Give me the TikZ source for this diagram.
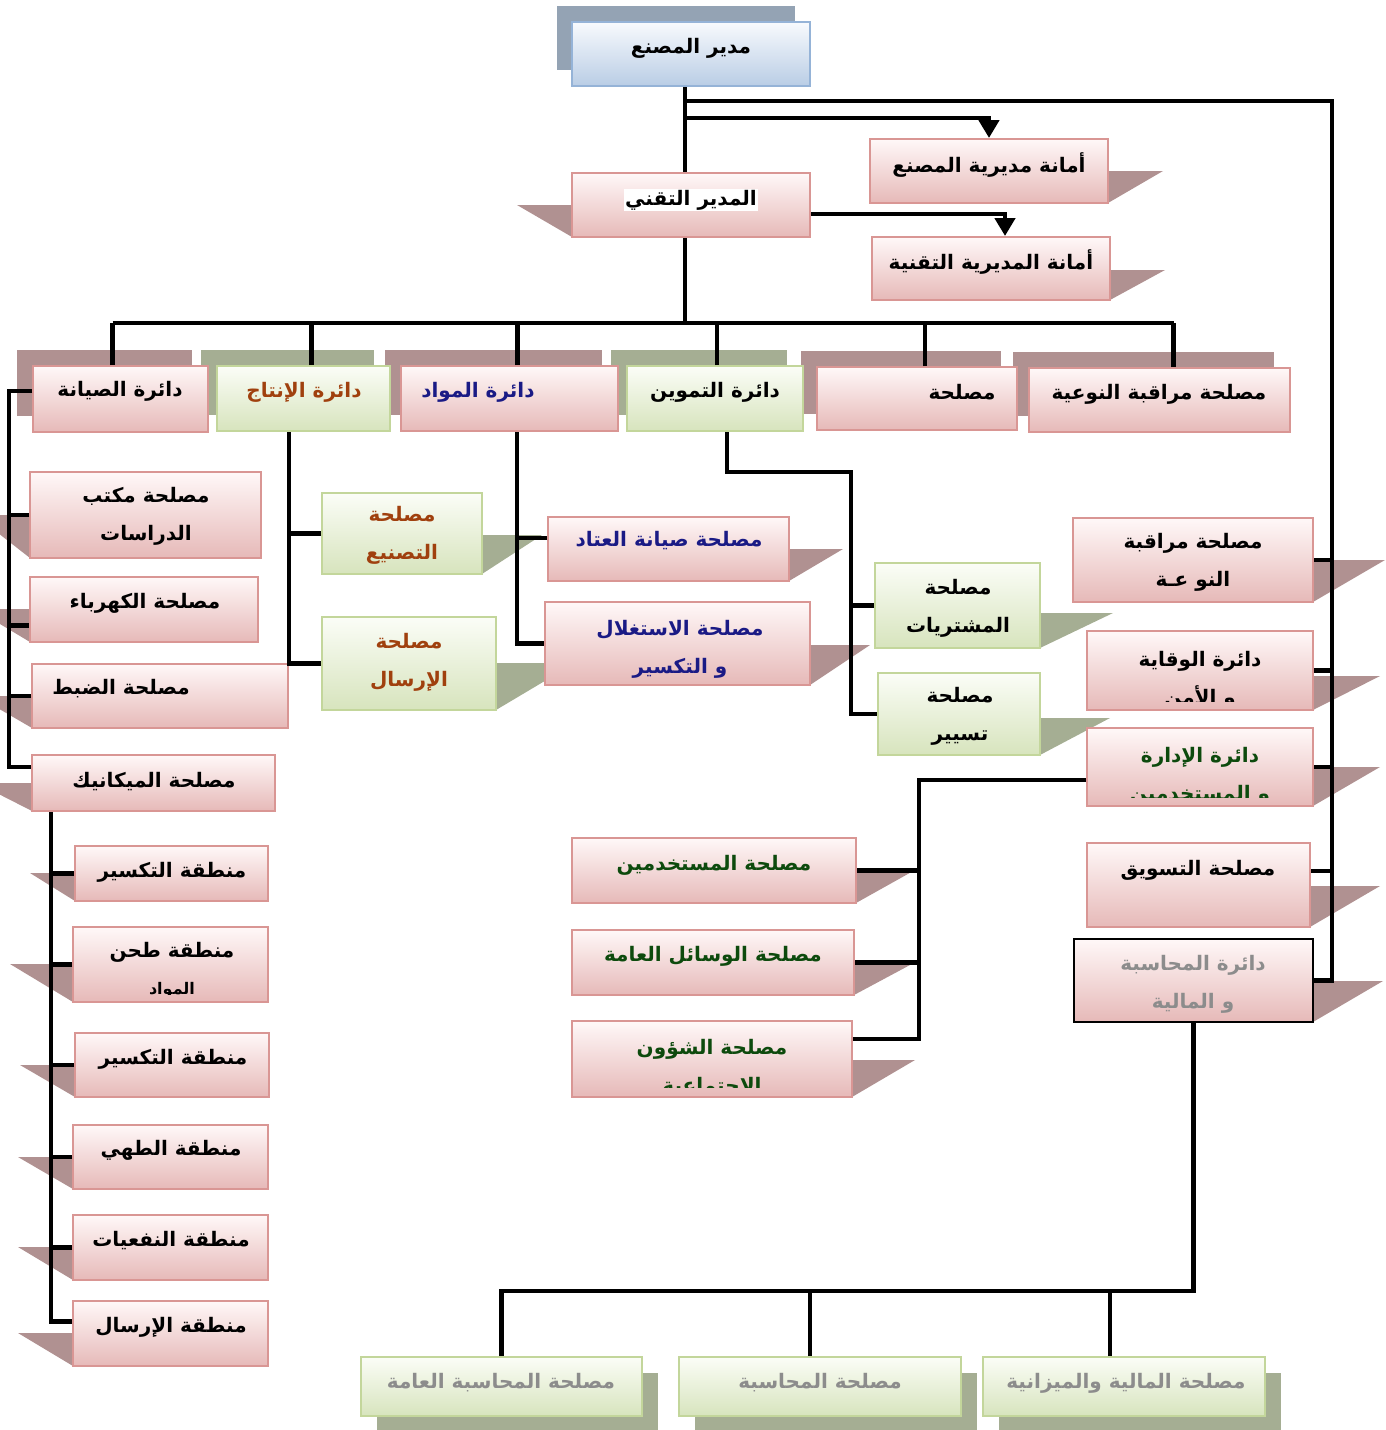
\documentclass[tikz,border=0pt]{standalone}
\usepackage{fontspec}
\usepackage{xcolor}
\usepackage{tikz}
\usetikzlibrary{arrows.meta}
\newfontfamily\arabicfont[Script=Arabic]{DejaVu Sans}
\TeXXeTstate=1
\newcommand{\ar}[1]{\beginR#1\endR}
\definecolor{pinktop}{HTML}{FFF8F8}
\definecolor{pinkbot}{HTML}{E6B9B8}
\definecolor{pinkline}{HTML}{D99694}
\definecolor{greentop}{HTML}{FBFDF7}
\definecolor{greenbot}{HTML}{D7E4BD}
\definecolor{greenline}{HTML}{C3D69B}
\definecolor{bluetop}{HTML}{F8FAFD}
\definecolor{bluebot}{HTML}{B9CDE5}
\definecolor{blueline}{HTML}{95B3D7}
\definecolor{shpinkc}{HTML}{B09191}
\definecolor{shgreenc}{HTML}{A5AE93}
\definecolor{shbluec}{HTML}{94A3B4}
\definecolor{txtbrown}{HTML}{A0400E}
\definecolor{txtnavy}{HTML}{1A1A85}
\definecolor{txtgreen}{HTML}{0D4A0D}
\definecolor{txtgrey}{HTML}{8C8C8C}
\tikzset{
  pinkbox/.style={draw=pinkline, line width=2pt, top color=pinktop, bottom color=pinkbot, inner sep=0pt},
  greenbox/.style={draw=greenline, line width=2pt, top color=greentop, bottom color=greenbot, inner sep=0pt},
  bluebox/.style={draw=blueline, line width=2pt, top color=bluetop, bottom color=bluebot, inner sep=0pt},
  sz/.style 2 args={minimum width=#1, minimum height=#2},
  shpink/.style={fill=shpinkc},
  shgreen/.style={fill=shgreenc},
  shblue/.style={fill=shbluec},
  conn/.style={draw=black, line width=4.5pt},
  tip/.style={-{Triangle[width=20pt,length=18pt]}},
  lab/.style={font=\arabicfont\bfseries\fontsize{20}{38}\selectfont, align=center, inner sep=1pt},
}

\begin{document}
\begin{tikzpicture}[x=1pt,y=-1pt]
  \useasboundingbox (0,0) rectangle (1386,1430);
  % shadows
  \fill[shblue] (557,6) rectangle (795,70);
  \fill[shpink] (17,350) rectangle (192,416);
  \fill[shgreen] (201,350) rectangle (374,415);
  \fill[shpink] (385,350) rectangle (602,415);
  \fill[shgreen] (611,350) rectangle (787,415);
  \fill[shpink] (801,351) rectangle (1001,414);
  \fill[shpink] (1013,352) rectangle (1274,416);
  \fill[shgreen] (377,1373) rectangle (658,1432);
  \fill[shgreen] (695,1373) rectangle (977,1432);
  \fill[shgreen] (999,1373) rectangle (1281,1432);
  \foreach \a/\b/\c/\d in {572/205/517/237, 1108/171/1163/203, 1110/270/1165/300,
      30/515/-25/558, 30/609/-25/642, 32/696/-23/728, 32/783/-23/811,
      75/873/30/901, 73/964/10/1002, 75/1065/20/1097, 73/1157/18/1189, 73/1247/18/1280, 73/1333/18/1366,
      789/549/843/581, 810/645/870/685,
      1313/560/1385/602, 1313/676/1380/710, 1313/767/1380/806, 1310/886/1380/927, 1313/981/1383/1022,
      856/870/915/903, 854/965/910/995, 852/1060/915/1097}
    \fill[shpink] (\a,\b) -- (\c,\b) -- (\a,\d) -- cycle;
  \foreach \a/\b/\c/\d in {482/535/542/574, 496/663/575/710, 1040/613/1113/648, 1040/718/1110/755}
    \fill[shgreen] (\a,\b) -- (\c,\b) -- (\a,\d) -- cycle;

  % boxes
  \node[bluebox, sz={238}{64}] (dir) at (691,54) {};
  \node[pinkbox, sz={238}{64}] (tech) at (691,205) {};
  \node[pinkbox, sz={238}{64}] (sec1) at (989,171) {};
  \node[pinkbox, sz={238}{63}] (sec2) at (991,268.5) {};
  \node[pinkbox, sz={175}{66}] (sian) at (120.5,399) {};
  \node[greenbox, sz={173}{65}] (prod) at (303.5,398.5) {};
  \node[pinkbox, sz={217}{65}] (mat) at (509.5,398.5) {};
  \node[greenbox, sz={176}{65}] (tam) at (715,398.5) {};
  \node[pinkbox, sz={200}{63}] (msl) at (917,398.5) {};
  \node[pinkbox, sz={261}{64}] (qual) at (1159.5,400) {};
  \node[pinkbox, sz={231}{86}] (study) at (145.5,515) {};
  \node[pinkbox, sz={228}{65}] (elec) at (144,609.5) {};
  \node[pinkbox, sz={256}{64}] (ctrl) at (160,696) {};
  \node[pinkbox, sz={243}{56}] (mech) at (153.5,783) {};
  \node[pinkbox, sz={193}{55}] (z1) at (171.5,873.5) {};
  \node[pinkbox, sz={195}{75}] (z2) at (170.5,964.5) {};
  \node[pinkbox, sz={194}{64}] (z3) at (172,1065) {};
  \node[pinkbox, sz={195}{64}] (z4) at (170.5,1157) {};
  \node[pinkbox, sz={195}{65}] (z5) at (170.5,1247.5) {};
  \node[pinkbox, sz={195}{65}] (z6) at (170.5,1333.5) {};
  \node[greenbox, sz={160}{81}] (manu) at (402,533.5) {};
  \node[greenbox, sz={174}{93}] (send) at (409,663.5) {};
  \node[pinkbox, sz={241}{64}] (maint) at (668.5,549) {};
  \node[pinkbox, sz={265}{83}] (expl) at (677.5,643.5) {};
  \node[greenbox, sz={165}{85}] (buy) at (957.5,605.5) {};
  \node[greenbox, sz={162}{82}] (stk) at (959,714) {};
  \node[pinkbox, sz={240}{84}] (qual2) at (1193,560) {};
  \node[pinkbox, sz={226}{79}] (prev) at (1200,670.5) {};
  \node[pinkbox, sz={226}{78}] (admin) at (1200,767) {};
  \node[pinkbox, sz={223}{84}] (mkt) at (1198.5,885) {};
  \node[pinkbox, draw=black, sz={239}{83}] (fin) at (1193.5,980.5) {};
  \node[pinkbox, sz={284}{65}] (users) at (714,870.5) {};
  \node[pinkbox, sz={282}{65}] (means) at (713,962.5) {};
  \node[pinkbox, sz={280}{76}] (social) at (712,1059) {};
  \node[greenbox, sz={281}{59}] (acc1) at (501.5,1386.5) {};
  \node[greenbox, sz={282}{59}] (acc2) at (820,1386.5) {};
  \node[greenbox, sz={282}{59}] (acc3) at (1124,1386.5) {};

  % texts
  \node[lab] (tdir) at (691,48) {\ar{مدير المصنع}};
  \node[lab, fill=white] (ttech) at (691,200) {\ar{المدير التقني}};
  \node[lab] (tsec1) at (989,165) {\ar{أمانة مديرية المصنع}};
  \node[lab] (tsec2) at (991,262) {\ar{أمانة المديرية التقنية}};
  \node[lab] (tsian) at (120,391) {\ar{دائرة الصيانة}};
  \node[lab, text=txtbrown] (tprod) at (304,392) {\ar{دائرة الإنتاج}};
  \node[lab, text=txtnavy] (tmat) at (478,392) {\ar{دائرة المواد}};
  \node[lab] (ttam) at (715,392) {\ar{دائرة التموين}};
  \node[lab] (tmsl) at (962,392) {\ar{مصلحة}};
  \node[lab] (tqual) at (1159,394) {\ar{مصلحة مراقبة النوعية}};
  \node[lab] (tstudy) at (146,516) {\ar{مصلحة مكتب}\\\ar{الدراسات}};
  \node[lab] (telec) at (145,603) {\ar{مصلحة الكهرباء}};
  \node[lab] (tctrl) at (121,689) {\ar{مصلحة الضبط}};
  \node[lab] (tmech) at (154,782) {\ar{مصلحة الميكانيك}};
  \node[lab] (tz1) at (172,872) {\ar{منطقة التكسير}};
  \node[lab] (tz2) at (172,952) {\ar{منطقة طحن}};
  \begin{scope}
    \clip (73,927) rectangle (268,994);
    \node[lab, font=\arabicfont\bfseries\fontsize{16}{20}\selectfont] (tz2b) at (172,990) {\ar{المواد}};
  \end{scope}
  \node[lab] (tz3) at (173,1059) {\ar{منطقة التكسير}};
  \node[lab] (tz4) at (171,1150) {\ar{منطقة الطهي}};
  \node[lab] (tz5) at (171,1241) {\ar{منطقة النفعيات}};
  \node[lab] (tz6) at (171,1327) {\ar{منطقة الإرسال}};
  \node[lab, text=txtbrown] (tmanu) at (402,535) {\ar{مصلحة}\\\ar{التصنيع}};
  \node[lab, text=txtbrown] (tsend) at (409,662) {\ar{مصلحة}\\\ar{الإرسال}};
  \node[lab, text=txtnavy] (tmaint) at (669,541) {\ar{مصلحة صيانة العتاد}};
  \begin{scope}
    \clip (545,602) rectangle (810,677);
    \node[lab, text=txtnavy] (texpl) at (680,649) {\ar{مصلحة الاستغلال}\\\ar{و التكسير}};
  \end{scope}
  \node[lab] (tbuy) at (958,608) {\ar{مصلحة}\\\ar{المشتريات}};
  \begin{scope}
    \clip (878,673) rectangle (1040,744);
    \node[lab] (tstk) at (960,716) {\ar{مصلحة}\\\ar{تسيير}};
  \end{scope}
  \node[lab] (tqual2) at (1193,562) {\ar{مصلحة مراقبة}\\\ar{النو عـة}};
  \begin{scope}
    \clip (1087,631) rectangle (1313,701);
    \node[lab] (tprev) at (1200,680) {\ar{دائرة الوقاية}\\\ar{و الأمن}};
  \end{scope}
  \begin{scope}
    \clip (1087,728) rectangle (1313,797);
    \node[lab, text=txtgreen] (tadmin) at (1200,776) {\ar{دائرة الإدارة}\\\ar{و المستخدمين}};
  \end{scope}
  \node[lab] (tmkt) at (1198,870) {\ar{مصلحة التسويق}};
  \node[lab, text=txtgrey] (tfin) at (1193,984) {\ar{دائرة المحاسبة}\\\ar{و المالية}};
  \node[lab, text=txtgreen] (tusers) at (714,865) {\ar{مصلحة المستخدمين}};
  \node[lab, text=txtgreen] (tmeans) at (713,956) {\ar{مصلحة الوسائل العامة}};
  \begin{scope}
    \clip (572,1021) rectangle (852,1087);
    \node[lab, text=txtgreen] (tsocial) at (712,1068) {\ar{مصلحة الشؤون}\\\ar{الاجتماعية}};
  \end{scope}
  \node[lab, text=txtgrey] (tacc1) at (501,1383) {\ar{مصلحة المحاسبة العامة}};
  \node[lab, text=txtgrey] (tacc2) at (820,1383) {\ar{مصلحة المحاسبة}};
  \node[lab, text=txtgrey] (tacc3) at (1126,1383) {\ar{مصلحة المالية والميزانية}};

  % connectors
  \coordinate (trunk) at (685,0);
  \coordinate (rcol) at (1332,101);
  \coordinate (sbus) at (685,118);
  \coordinate (bus) at (0,323);
  \draw[conn] (trunk |- dir.south) -- (trunk |- tech.north);
  \draw[conn] (trunk |- rcol) -- (rcol) -- (rcol |- fin.east) -- (fin.east);
  \draw[conn, tip] (sbus) -| (sec1.north);
  \coordinate (tside) at ([yshift=-9]tech.east);
  \coordinate (s2top) at ([xshift=14]sec2.north);
  \draw[conn, tip] (tside) -| (s2top);
  \foreach \n in {qual2, prev, admin}
    \draw[conn] (\n.east) -- (\n.east -| rcol);
  \coordinate (mkp) at ([yshift=14]mkt.east);
  \draw[conn] (mkp) -- (mkp -| rcol);

  \draw[conn] (trunk |- tech.south) -- (trunk |- bus);
  \foreach \n/\d in {sian/-8, prod/8, mat/8, tam/2, msl/8, qual/14} {
    \coordinate (d\n) at ([xshift=\d]\n.north);
    \draw[conn] (d\n) -- (d\n |- bus);
  }
  \draw[conn] (dsian |- bus) -- (dqual |- bus);

  \coordinate (lcol) at (9,0);
  \coordinate (sip) at ([yshift=8]sian.west);
  \coordinate (mep) at ([yshift=16]mech.west);
  \coordinate (elp) at ([yshift=-16]elec.west);
  \draw[conn] (sip) -- (sip -| lcol) -- (mep -| lcol) -- (mep);
  \draw[conn] (study.west) -- (study.west -| lcol);
  \draw[conn] (elp) -- (elp -| lcol);
  \draw[conn] (ctrl.west) -- (ctrl.west -| lcol);

  \coordinate (mcol) at (51,0);
  \coordinate (z6p) at ([yshift=12]z6.west);
  \draw[conn] (mcol |- mech.south) -- (mcol |- z6p) -- (z6p);
  \foreach \n in {z1, z2, z3, z4, z5}
    \draw[conn] (\n.west) -- (\n.west -| mcol);

  \coordinate (pcol) at (289,0);
  \draw[conn] (pcol |- prod.south) -- (pcol |- send.west) -- (send.west);
  \draw[conn] (manu.west) -- (manu.west -| pcol);

  \coordinate (mtcol) at (517,0);
  \coordinate (mnp) at ([yshift=11]maint.west);
  \draw[conn] (mtcol |- mat.south) -- (mtcol |- expl.west) -- (expl.west);
  \draw[conn] (mnp) -- (mnp -| mtcol);

  \coordinate (tcol) at (727,472);
  \coordinate (scol) at (851,472);
  \draw[conn] (tcol |- tam.south) -- (tcol) -- (scol) -- (scol |- stk.west) -- (stk.west);
  \draw[conn] (buy.west) -- (buy.west -| scol);

  \coordinate (acol) at (919,0);
  \coordinate (adp) at ([yshift=-13]admin.west);
  \coordinate (sop) at ([yshift=20]social.east);
  \draw[conn] (adp) -- (adp -| acol) -- (acol |- sop) -- (sop);
  \draw[conn] (users.east) -- (users.east -| acol);
  \draw[conn] (means.east) -- (means.east -| acol);

  \coordinate (fbus) at (0,1291);
  \coordinate (a2p) at ([xshift=-10]acc2.north);
  \coordinate (a3p) at ([xshift=-14]acc3.north);
  \draw[conn] (fin.south) -- (fin.south |- fbus) -- (acc1.north |- fbus) -- (acc1.north);
  \draw[conn] (a2p) -- (a2p |- fbus);
  \draw[conn] (a3p) -- (a3p |- fbus);
\end{tikzpicture}
\end{document}
